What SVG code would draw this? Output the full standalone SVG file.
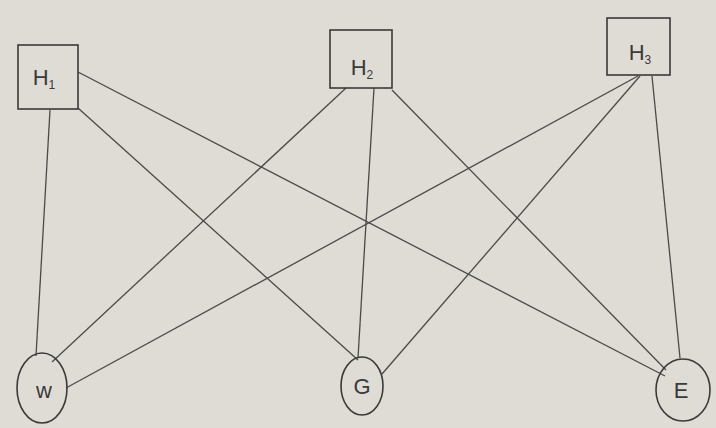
<svg xmlns="http://www.w3.org/2000/svg" width="716" height="428" viewBox="0 0 716 428">
<style>
.bg{fill:#dfdcd5}
.n{fill:none;stroke:#3a3a3a;stroke-width:1.6}
.e{fill:none;stroke:#4a4a4a;stroke-width:1.3}
.t{font-family:"Liberation Sans",Arial,sans-serif;font-size:22px;fill:#3a3a3a;text-anchor:middle}
.s{font-size:12px}
</style>
<rect class="bg" x="0" y="0" width="716" height="428"/>
<g id="connectors">
<line class="e" x1="50" y1="110" x2="36" y2="356"/>
<line class="e" x1="78" y1="108" x2="358" y2="360"/>
<line class="e" x1="78" y1="72" x2="665" y2="376"/>
<line class="e" x1="346" y1="88" x2="52" y2="362"/>
<line class="e" x1="374" y1="88" x2="358" y2="358"/>
<line class="e" x1="392" y1="90" x2="666" y2="370"/>
<line class="e" x1="638" y1="76" x2="66" y2="388"/>
<line class="e" x1="640" y1="76" x2="382" y2="374"/>
<line class="e" x1="652" y1="76" x2="680" y2="358"/>
</g>
<g id="H1">
<rect class="n" x="18" y="45" width="60" height="64"/>
<text class="t" x="44" y="85">H<tspan class="s" dy="4">1</tspan></text>
</g>
<g id="H2">
<rect class="n" x="330" y="30" width="62" height="58"/>
<text class="t" x="362" y="75">H<tspan class="s" dy="4">2</tspan></text>
</g>
<g id="H3">
<rect class="n" x="607" y="18" width="63" height="57"/>
<text class="t" x="640" y="60">H<tspan class="s" dy="4">3</tspan></text>
</g>
<g id="W">
<ellipse class="n" cx="42" cy="388" rx="25" ry="35"/>
<text class="t" x="44" y="398">w</text>
</g>
<g id="G">
<ellipse class="n" cx="362" cy="386" rx="21" ry="29"/>
<text class="t" x="362" y="394">G</text>
</g>
<g id="E">
<ellipse class="n" cx="683" cy="390" rx="27" ry="31"/>
<text class="t" x="681" y="398">E</text>
</g>
</svg>
